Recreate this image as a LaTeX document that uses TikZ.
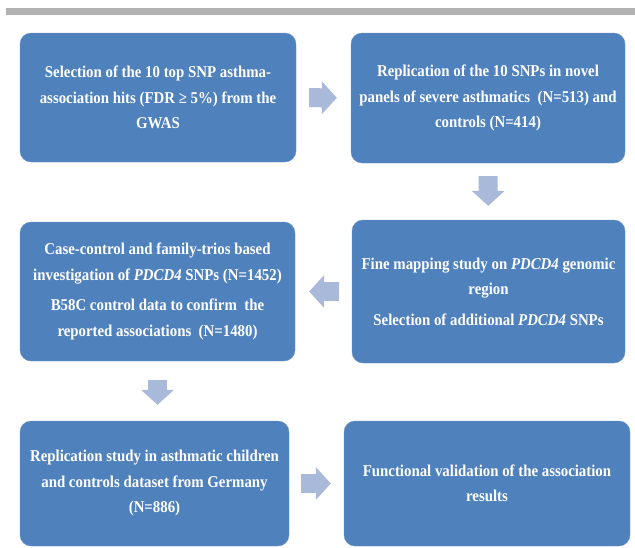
\documentclass[tikz,border=0pt]{standalone}
\usepackage{fontspec}
\setmainfont[FakeStretch=0.9]{Liberation Serif}
\usetikzlibrary{arrows.meta}
\definecolor{BoxBlue}{HTML}{4F81BD}
\definecolor{ArrowBlue}{HTML}{A8B9D9}
\definecolor{BarGray}{HTML}{B2B2B2}

\tikzset{
  stagebox/.style={fill=BoxBlue, draw=BoxBlue!85!white, rounded corners=11pt,
    inner sep=0pt, align=center, text=white,
    font=\fontsize{16.5}{25.5}\selectfont\bfseries},
  blockarrow/.style={draw=ArrowBlue, line width=19pt,
    -{Triangle[width=33pt,length=15pt,line width=0pt]},
    shorten <=13pt, shorten >=14pt}
}

\begin{document}
\begin{tikzpicture}[x=1pt,y=-1pt]
    \useasboundingbox (0,0) rectangle (635,547);
    \fill[BarGray] (6,8) rectangle (635,15);

    \node[stagebox, minimum width=276pt, minimum height=129pt] (select) at (158,97.5)
      {Selection of the 10 top SNP asthma-\\association hits (FDR ≥ 5\%) from the\\GWAS};
    \node[stagebox, minimum width=274pt, minimum height=130pt] (replic) at (488,98)
      {Replication of the 10 SNPs in novel\\panels of severe asthmatics~~(N=513) and\\controls (N=414)};
    \node[stagebox, minimum width=273pt, minimum height=143pt] (finemap) at (488.5,291.5)
      {Fine mapping study on \textit{PDCD4} genomic\\region\\[5pt]Selection of additional \textit{PDCD4} SNPs};
    \node[stagebox, minimum width=275pt, minimum height=139pt] (casectrl) at (157.5,291.5)
      {Case-control and family-trios based\\investigation of \textit{PDCD4} SNPs (N=1452)\\[5pt]B58C control data to confirm~~the\\reported associations~~(N=1480)};
    \node[stagebox, minimum width=269pt, minimum height=125pt] (germany) at (154.5,483.5)
      {Replication study in asthmatic children\\and controls dataset from Germany\\(N=886)};
    \node[stagebox, minimum width=286pt, minimum height=125pt] (funcval) at (487,483.5)
      {Functional validation of the association\\results};

    \draw[blockarrow] (select) -- (replic);
    \draw[blockarrow] (replic) -- (finemap);
    \draw[blockarrow] (finemap) -- (casectrl);
    \draw[blockarrow, shorten <=19pt, shorten >=16pt] (casectrl.south) -- (casectrl.south |- germany.north);
    \draw[blockarrow, shorten <=12pt, shorten >=13pt] (germany) -- (funcval);
\end{tikzpicture}
\end{document}
